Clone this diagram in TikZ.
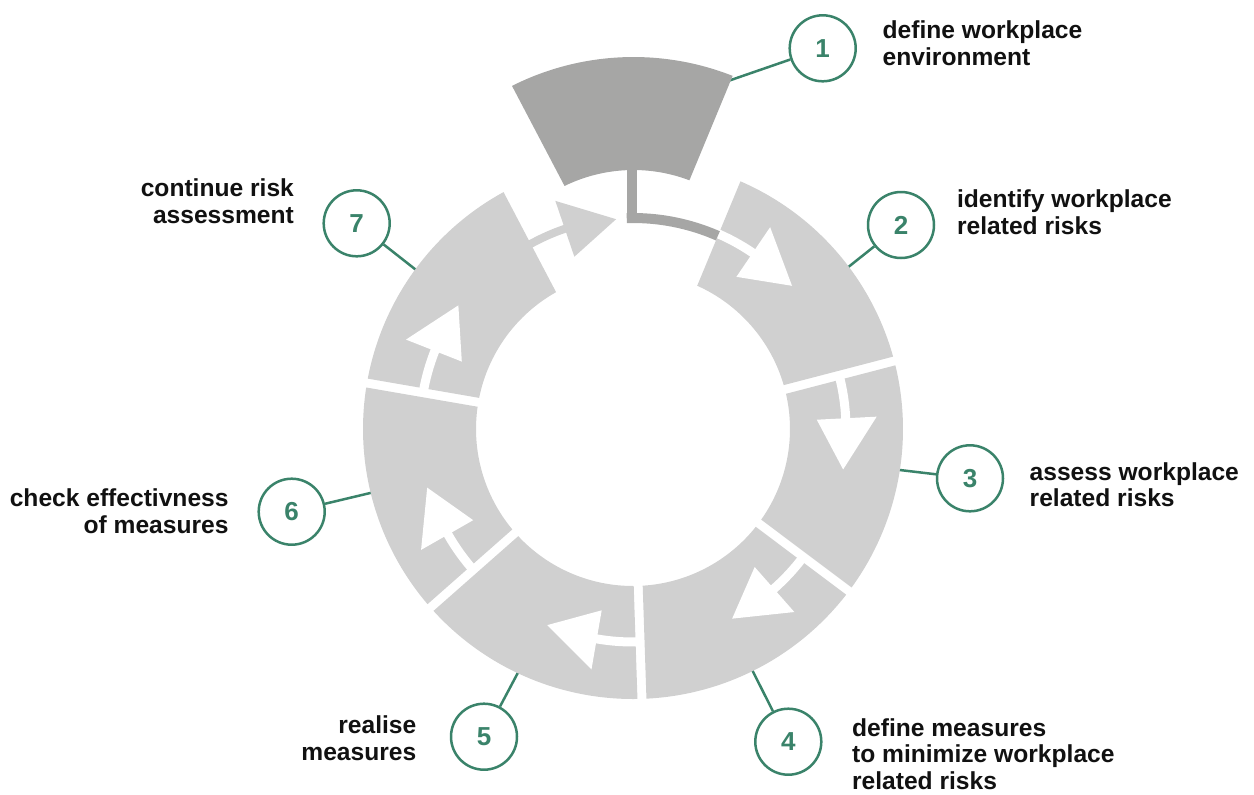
\documentclass[tikz,border=0pt]{standalone}
\usepackage{fontspec}
\setmainfont{Liberation Sans}
\definecolor{segl}{HTML}{D0D0D0}
\definecolor{segd}{HTML}{A6A6A5}
\definecolor{grn}{HTML}{3A836A}
\definecolor{txt}{HTML}{111111}
% ring segment between boundary angles #1 (start) and #2 (end)
\newcommand\ringseg[2]{%
  \fill[segl] ({#1-1.642}:157) arc[start angle={#1-1.642}, end angle={#2+1.642}, radius=157]
    -- ({#2+0.955}:270) arc[start angle={#2+0.955}, end angle={#1-0.955}, radius=270] -- cycle;}
% white arrow cut into a segment starting at boundary #1
\newcommand\wharrow[1]{%
  \fill[white] ({#1+0.6}:208.5) arc[start angle={#1+0.6}, end angle={#1-12}, radius=208.5]
    -- ({#1-12}:217.5) arc[start angle={#1-12}, end angle={#1+0.6}, radius=217.5] -- cycle;
  \fill[white] ({#1-11.7}:184) -- ({#1-11.7}:244) -- ({#1-25.5}:214) -- cycle;}
\begin{document}
\begin{tikzpicture}[x=0.5pt,y=-0.5pt,
  numc/.style={circle, draw=grn, line width=1.25pt, fill=white, minimum size=33pt,
    inner sep=0pt, text=grn, font=\fontsize{13}{13}\selectfont\bfseries},
  lbl/.style={font=\fontsize{12.3}{13.3}\selectfont\bfseries, text=txt, inner sep=0pt},
  lbll/.style={lbl, align=left, anchor=base west},
  lblr/.style={lbl, align=right, anchor=base east},
  conn/.style={draw=grn, line width=1.25pt}]
\useasboundingbox (0,0) rectangle (1254,794);
% connector end points on the ring
\begin{scope}[shift={(633,429)}, yscale=-1]
  \coordinate (e1) at (95,348);
  \coordinate (e2) at (36.9:262);
  \coordinate (e3) at (-8.8:262);
  \coordinate (e4) at (-63.7:262);
  \coordinate (e5) at (-115.2:262);
  \coordinate (e6) at (-166.3:262);
  \coordinate (e7) at (143.8:262);
\end{scope}
% numbered circles
\node[numc] (n1) at (822.7,48.3) {1};
\node[numc] (n2) at (901,225) {2};
\node[numc] (n3) at (970,478.3) {3};
\node[numc] (n4) at (788.3,741.7) {4};
\node[numc] (n5) at (484,736.7) {5};
\node[numc] (n6) at (291.7,511.7) {6};
\node[numc] (n7) at (356.7,223.3) {7};
% labels (anchored at the baseline of the last line)
\node[lbll] (t1) at (882.3,65) {define workplace\\environment};
\node[lbll] (t2) at (956.7,234.3) {identify workplace\\related risks};
\node[lbll] (t3) at (1029.3,506.7) {assess workplace\\related risks};
\node[lbll] (t4) at (851.7,789.3) {define measures\\to minimize workplace\\related risks};
\node[lblr] (t5) at (416.7,760) {realise\\measures};
\node[lblr] (t6) at (229,533.3) {check effectivness\\of measures};
\node[lblr] (t7) at (294.3,223.3) {continue risk\\assessment};
% connectors
\foreach \i in {1,...,7} \draw[conn] (n\i) -- (e\i);
% the ring
\begin{scope}[shift={(633,429)}, yscale=-1]
  \ringseg{67.5}{14.6}
  \ringseg{14.6}{-36.9}
  \ringseg{-36.9}{-88.1}
  \ringseg{-88.1}{-138.6}
  \ringseg{-138.6}{-189.8}
  \ringseg{170.2}{117.7}
  \wharrow{67.5}
  \wharrow{14.6}
  \wharrow{-36.9}
  \wharrow{-88.1}
  \wharrow{-138.6}
  \wharrow{170.2}
  % arrow from segment 7 into the empty slot
  \fill[segl] (119.5:207.5) arc[start angle=119.5, end angle=108.5, radius=207.5]
    -- (108.5:215.5) arc[start angle=108.5, end angle=119.5, radius=215.5] -- cycle;
  \fill[segl] (108.8:182) -- (108.8:241) -- (94.6:210.5) -- cycle;
  % displaced segment 1
  \begin{scope}[shift={(0.5,102)}]
    \fill[segd] (116.058:157) arc[start angle=116.058, end angle=69.142, radius=157]
      -- (68.455:270) arc[start angle=68.455, end angle=116.745, radius=270] -- cycle;
  \end{scope}
  % arrow from segment 1 into segment 2
  \fill[segd] (-6.3,205.9) rectangle (3.7,262);
  \fill[segd] (91.7:206) arc[start angle=91.7, end angle=66.28, radius=206]
    -- (66.28:216) arc[start angle=66.28, end angle=91.7, radius=216] -- cycle;
\end{scope}
\end{tikzpicture}
\end{document}
